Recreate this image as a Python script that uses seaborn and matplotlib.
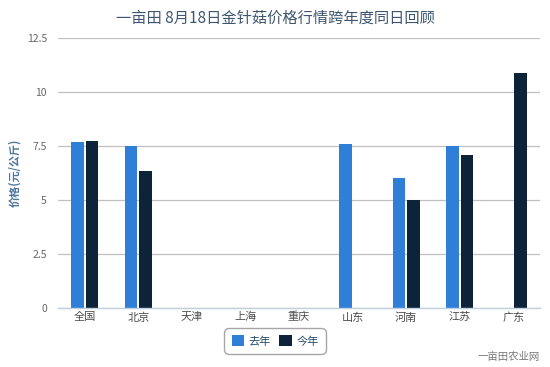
import matplotlib
matplotlib.use("Agg")
import matplotlib.pyplot as plt
import seaborn as sns
import pandas as pd

categories = ["全国", "北京", "天津", "上海", "重庆", "山东", "河南", "江苏", "广东"]
last_year = [7.69, 7.52, None, None, None, 7.58, 6.0, 7.5, None]
this_year = [7.73, 6.33, None, None, None, None, 5.0, 7.1, 10.9]
series_names = ["去年", "今年"]
yticks = [0, 2.5, 5, 7.5, 10, 12.5]
ytick_labels = ["0", "2.5", "5", "7.5", "10", "12.5"]

sns.set_theme(style="white")
plt.rcParams['font.family'] = ['Noto Sans CJK SC', 'DejaVu Sans']

rows = []
for c, a, b in zip(categories, last_year, this_year):
    rows.append({"地区": c, "年份": series_names[0], "价格": a})
    rows.append({"地区": c, "年份": series_names[1], "价格": b})
df = pd.DataFrame(rows)

fig = plt.figure(figsize=(5.5, 3.67), dpi=100)
ax = fig.add_axes([58/550, 1-308/367, 482/550, 270/367])

palette = {"去年": "#2f7ed8", "今年": "#0d233a"}
sns.barplot(data=df, x="地区", y="价格", hue="年份", order=categories,
            hue_order=series_names, palette=palette, width=0.54, gap=0.14,
            ax=ax, saturation=1, linewidth=0, legend=True)

ax.set_ylim(0, 12.5)
ax.set_xlim(-0.5, len(categories) - 0.5)
ax.set_yticks(yticks)
ax.set_yticklabels(ytick_labels)
ax.yaxis.grid(True, color="#c0c0c0", linewidth=0.9)
ax.set_axisbelow(True)
for s in ["top", "right", "left"]:
    ax.spines[s].set_visible(False)
ax.spines["bottom"].set_color("#c0d0e0")
ax.spines["bottom"].set_linewidth(1)
ax.tick_params(axis="y", length=0, labelsize=7.5, labelcolor="#666666", pad=8)
ax.tick_params(axis="x", length=0, labelsize=8, labelcolor="#4d4d4d", pad=3)
ax.set_xticks([i - 0.5 for i in range(len(categories) + 1)], minor=True)
ax.tick_params(axis="x", which="minor", length=5, color="#c0d0e0", width=1)
ax.set_xlabel("")
ax.set_ylabel("价格(元/公斤)", color="#4d759e", fontsize=8, fontweight="bold", labelpad=4)

fig.text(0.5, 1-18/367, "一亩田 8月18日金针菇价格行情跨年度同日回顾", ha="center", va="center",
         fontsize=11, color="#3e576f")

leg = ax.legend(loc="center", bbox_to_anchor=(275/550, 1-341/367), bbox_transform=fig.transFigure,
                ncol=2, frameon=True, fontsize=8, handlelength=1.1, handleheight=1.1,
                columnspacing=0.8, handletextpad=0.4, borderpad=0.45)
leg.get_frame().set_edgecolor("#909090")
leg.get_frame().set_linewidth(1)
leg.get_frame().set_boxstyle("round,pad=0.2,rounding_size=0.4")
for t in leg.get_texts():
    t.set_color("#274b6d")

fig.text(540/550, 1-357/367, "一亩田农业网", ha="right", va="center", fontsize=7.5, color="#777777")

fig.savefig("out.png", dpi=100, facecolor="white")
